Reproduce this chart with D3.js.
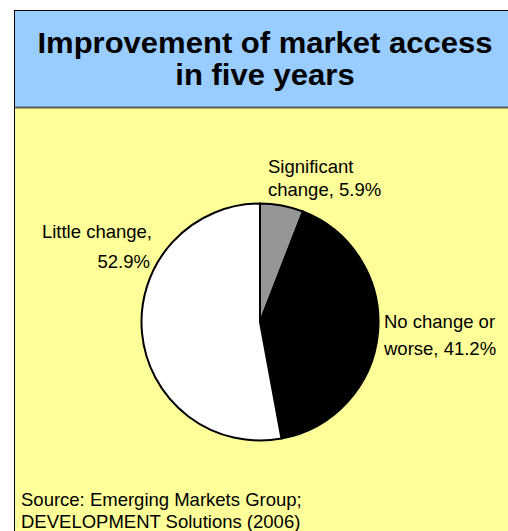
<!DOCTYPE html>
<html>
<head>
<meta charset="utf-8">
<script src="https://cdn.jsdelivr.net/npm/d3@7"></script>
<style>
  html, body { margin: 0; padding: 0; background: #ffffff; }
  svg { display: block; }
  text { font-family: "Liberation Sans", Arial, sans-serif; fill: #000; }
</style>
</head>
<body>
<div id="chart"></div>
<script>
// Survey answers: how market access changed over five years
const categories = ["Significant change", "No change or worse", "Little change"];
const shares = [5.9, 41.2, 52.9];
const labelLines = [
  ["Significant", "change, 5.9%"],
  ["No change or", "worse, 41.2%"],
  ["Little change,", "52.9%"]
];
const titleLines = ["Improvement of market access", "in five years"];
const sourceLines = ["Source: Emerging Markets Group;", "DEVELOPMENT Solutions (2006)"];

const W = 508, H = 531;
const frame = { x: 14, y: 10, titleBottom: 107 };
const pieCenter = { x: 260, y: 322 };
const radius = 118.5;

const fills = d3.scaleOrdinal()
  .domain(categories)
  .range(["#969696", "#000000", "#ffffff"]);

// label placement for each slice: anchor point, text-anchor, line gap
const labelLayout = {
  "Significant change": { x: 268, y: 173, anchor: "start", gap: 23 },
  "No change or worse": { x: 384, y: 328, anchor: "start", gap: 27 },
  "Little change":      { x: 152, y: 238, anchor: "end",   gap: 30, align: [0, -2] }
};

const svg = d3.select("#chart").append("svg")
  .attr("width", W).attr("height", H);

// outer white page, yellow plot area, blue title band
svg.append("rect").attr("x", 0).attr("y", 0).attr("width", W).attr("height", H).attr("fill", "#ffffff");
svg.append("rect")
  .attr("x", frame.x + 0.5).attr("y", frame.y + 0.5)
  .attr("width", W + 20).attr("height", H + 20)
  .attr("fill", "#ffff99").attr("stroke", "#000").attr("stroke-width", 1);
svg.append("rect")
  .attr("x", frame.x + 0.5).attr("y", frame.y + 0.5)
  .attr("width", W + 20).attr("height", frame.titleBottom - frame.y)
  .attr("fill", "#99ccff").attr("stroke", "#000").attr("stroke-width", 1);
svg.append("line")
  .attr("x1", frame.x + 1).attr("x2", W)
  .attr("y1", frame.titleBottom + 0.5).attr("y2", frame.titleBottom + 0.5)
  .attr("stroke", "#5f5f5f").attr("stroke-width", 2);

// title
const titleX = 265;
svg.append("g").selectAll("text").data(titleLines).join("text")
  .attr("transform", (d, i) => `translate(${titleX},${53 + i * 32}) scale(1.07,1)`)
  .attr("text-anchor", "middle")
  .style("font-size", "29px").style("font-weight", "bold")
  .text(d => d);

// pie
const pie = d3.pie().sort(null).value(d => d.value);
const arcs = pie(categories.map((c, i) => ({ category: c, value: shares[i] })));
const arc = d3.arc().innerRadius(0).outerRadius(radius);

const pieG = svg.append("g").attr("transform", `translate(${pieCenter.x},${pieCenter.y})`);
pieG.selectAll("path").data(arcs).join("path")
  .attr("d", arc)
  .attr("fill", d => fills(d.data.category))
  .attr("stroke", "#000")
  .attr("stroke-width", 2)
  .attr("stroke-linejoin", "round");

// slice labels
arcs.forEach((a, i) => {
  const L = labelLayout[a.data.category];
  const g = svg.append("g");
  labelLines[i].forEach((line, j) => {
    g.append("text")
      .attr("x", L.x + (L.align ? L.align[j] : 0))
      .attr("y", L.y + j * L.gap)
      .attr("text-anchor", L.anchor)
      .style("font-size", "18.5px")
      .text(line);
  });
});

// source note
svg.append("g").selectAll("text").data(sourceLines).join("text")
  .attr("x", 21)
  .attr("y", (d, i) => 506 + i * 22)
  .style("font-size", "18.5px")
  .text(d => d);
</script>
</body>
</html>
